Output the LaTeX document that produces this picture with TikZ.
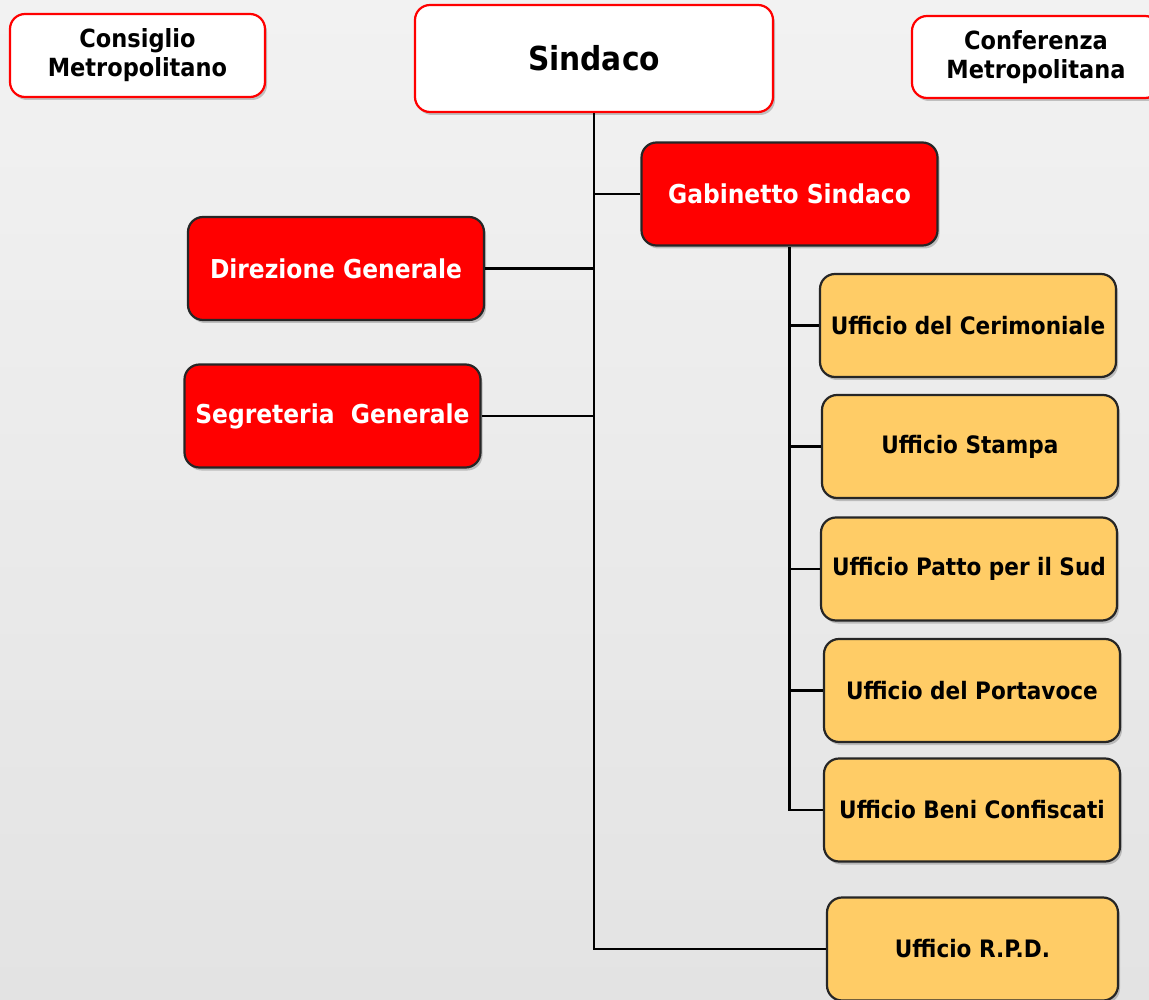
\documentclass[tikz,border=0pt]{standalone}
\usepackage{fontspec}
\setmainfont{DejaVu Sans Condensed}
\usepackage{tikz}
\usetikzlibrary{shadows}

\definecolor{boxred}{HTML}{FF0000}
\definecolor{boxorange}{HTML}{FFCC66}
\definecolor{bgtop}{HTML}{F2F2F2}
\definecolor{bgbot}{HTML}{E3E3E3}

\tikzset{
  box/.style={rounded corners=15pt, line width=2.2pt, align=center, font=\bfseries,
    drop shadow={shadow xshift=2pt, shadow yshift=-3pt, opacity=0.35, fill=black!60}},
  topbox/.style={box, draw=boxred, fill=white, text=black},
  redbox/.style={box, draw=black!85, fill=boxred, text=white,
    minimum width=296pt, minimum height=103pt, font=\bfseries\fontsize{26}{30}\selectfont},
  uffbox/.style={box, draw=black!85, fill=boxorange, text=black,
    minimum width=296pt, minimum height=103pt, font=\bfseries\fontsize{24}{28}\selectfont},
  link/.style={line width=2.2pt, black}
}

\begin{document}
\begin{tikzpicture}[x=1pt, y=-1pt]
\useasboundingbox (0,0) rectangle (1149,1000);
\fill[top color=bgtop, bottom color=bgbot] (0,0) rectangle (1149,1000);

% vertici
\node[topbox, minimum width=255pt, minimum height=83pt, font=\bfseries\fontsize{25}{29}\selectfont] (cons) at (137.5,55.5) {Consiglio\\Metropolitano};
\node[topbox, minimum width=358pt, minimum height=107pt, font=\bfseries\fontsize{33}{36}\selectfont] (sind) at (594,58.5) {Sindaco};
\node[topbox, minimum width=248pt, minimum height=82pt, font=\bfseries\fontsize{25}{29}\selectfont] (conf) at (1036,57) {Conferenza\\Metropolitana};

\node[redbox] (gab) at (789.5,194) {Gabinetto Sindaco};
\node[redbox] (dir) at (336,268.5) {Direzione Generale};
\node[redbox] (seg) at (332.5,416) {Segreteria\ \ Generale};

% uffici
\node[uffbox] (cer) at (968,325.5) {Ufficio del Cerimoniale};
\node[uffbox] (sta) at (970,446.5) {Ufficio Stampa};
\node[uffbox] (pat) at (969,569) {Ufficio Patto per il Sud};
\node[uffbox] (por) at (972,690.5) {Ufficio del Portavoce};
\node[uffbox] (ben) at (972,810) {Ufficio Beni Confiscati};
\node[uffbox, minimum width=291pt] (rpd) at (972.5,949) {Ufficio R.P.D.};

% collegamenti
\draw[link] (sind.south) |- (rpd.west);
\draw[link] (gab.west) -- (gab.west -| sind.south);
\draw[link] (dir.east) -- (dir.east -| sind.south);
\draw[link] (seg.east) -- (seg.east -| sind.south);
\draw[link] (gab.south) |- (ben.west);
\foreach \n in {cer,sta,pat,por}
  \draw[link] (\n.west) -- (\n.west -| gab.south);
\end{tikzpicture}
\end{document}
